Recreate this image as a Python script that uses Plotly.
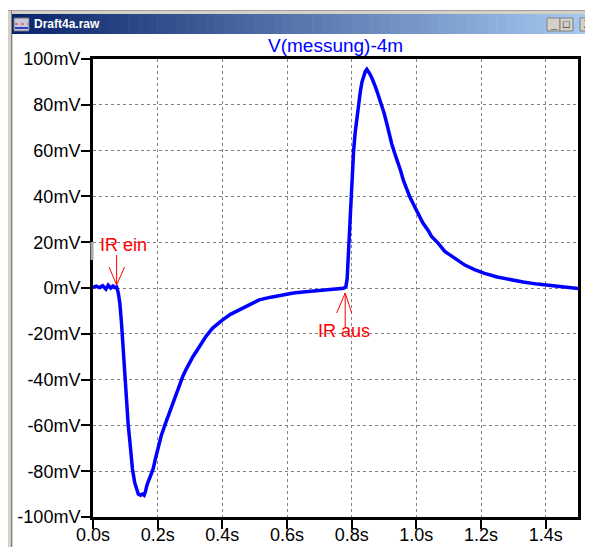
import plotly.graph_objects as go

# ---------------- data ----------------
t_s = [0.000, 0.010, 0.020, 0.030, 0.040, 0.047, 0.055, 0.062, 0.068, 0.073,
       0.078, 0.083, 0.088, 0.093, 0.098, 0.104, 0.109, 0.114, 0.118, 0.122,
       0.129, 0.135, 0.140, 0.147, 0.153, 0.158, 0.162, 0.167, 0.176, 0.186,
       0.194, 0.201, 0.211, 0.222, 0.232, 0.247, 0.258, 0.268, 0.278, 0.288,
       0.299, 0.309, 0.325, 0.339, 0.350, 0.370, 0.386, 0.401, 0.425, 0.452,
       0.480, 0.514, 0.550, 0.586, 0.620, 0.657, 0.690, 0.729, 0.760, 0.775,
       0.782, 0.786, 0.791, 0.796, 0.801, 0.806, 0.811, 0.816, 0.822, 0.827,
       0.832, 0.837, 0.842, 0.847, 0.852, 0.857, 0.863, 0.868, 0.873, 0.878,
       0.885, 0.893, 0.900, 0.909, 0.916, 0.924, 0.935, 0.945, 0.952, 0.960,
       0.970, 0.980, 0.993, 1.006, 1.020, 1.037, 1.047, 1.068, 1.088, 1.098,
       1.124, 1.150, 1.180, 1.211, 1.250, 1.293, 1.330, 1.375, 1.420, 1.460,
       1.500]
v_mV = [0.3, 0.8, 0.2, 1.0, -0.5, 1.2, 0.0, 0.9, 0.2, 0.4,
        -2.0, -6.6, -15.0, -27.0, -39.0, -52.0, -60.0, -67.0, -73.0, -79.0,
        -85.0, -88.5, -90.0, -90.5, -90.0, -90.5, -89.0, -86.0, -83.0, -79.0,
        -74.0, -70.0, -64.5, -60.0, -56.0, -50.0, -46.0, -42.0, -38.5, -35.5,
        -32.5, -30.0, -26.5, -23.5, -21.0, -17.5, -15.4, -13.9, -11.5, -9.6,
        -7.2, -5.2, -4.0, -3.0, -2.2, -1.6, -1.2, -0.9, -0.4, -0.1,
        0.5, 4.0, 18.0, 34.0, 48.0, 60.0, 68.0, 74.5, 81.0, 86.0,
        90.0, 92.6, 94.5, 95.5, 94.5, 93.3, 91.5, 90.0, 88.0, 86.0,
        83.0, 80.3, 76.5, 71.6, 67.0, 62.9, 58.0, 54.2, 51.0, 47.0,
        43.0, 39.7, 36.0, 32.5, 28.5, 25.0, 22.5, 19.5, 16.0, 15.0,
        12.5, 10.0, 8.0, 6.4, 4.8, 3.5, 2.6, 1.7, 1.0, 0.4,
        -0.2]

x_ticks = [0.0, 0.2, 0.4, 0.6, 0.8, 1.0, 1.2, 1.4]
x_labels = ["0.0s", "0.2s", "0.4s", "0.6s", "0.8s", "1.0s", "1.2s", "1.4s"]
y_ticks = [-100, -80, -60, -40, -20, 0, 20, 40, 60, 80, 100]
y_labels = ["-100mV", "-80mV", "-60mV", "-40mV", "-20mV", "0mV",
            "20mV", "40mV", "60mV", "80mV", "100mV"]

ir_on_t = 0.073
ir_off_t = 0.780
trace_name = "V(messung)-4m"
window_title = "Draft4a.raw"

# ---------------- layout geometry ----------------
# The page body has an 8px margin, so the figure starts at screen (8, 8).
OFF = 8
SW, SH = 593, 547                # screen size
W, H = SW - OFF, SH - OFF        # figure size
L, R, T, B = 93 - OFF, 15, 59 - OFF, 30
PW, PH = W - L - R, H - T - B


def px(sx):
    """screen x -> paper x"""
    return (sx - OFF - L) / PW


def py(sy):
    """screen y -> paper y"""
    return (H - B - (sy - OFF)) / PH


FONT = "Liberation Sans, Arial, sans-serif"

fig = go.Figure()
fig.add_trace(go.Scatter(x=t_s, y=v_mV, mode="lines",
                         line=dict(color="#0000FF", width=3.5),
                         hoverinfo="skip", showlegend=False))

shapes = []
annotations = []

# window frame (left and top)
shapes.append(dict(type="rect", xref="paper", yref="paper",
                   x0=px(6), x1=px(13), y0=py(10), y1=py(SH),
                   fillcolor="#d4d0c8", line=dict(width=0)))
shapes.append(dict(type="rect", xref="paper", yref="paper",
                   x0=px(6), x1=px(SW), y0=py(10), y1=py(14),
                   fillcolor="#d4d0c8", line=dict(width=0)))
for xx, col in [(6.5, "#a0a0a0"), (11.5, "#808080")]:
    shapes.append(dict(type="line", xref="paper", yref="paper",
                       x0=px(xx), x1=px(xx), y0=py(10), y1=py(SH),
                       line=dict(color=col, width=1)))
shapes.append(dict(type="line", xref="paper", yref="paper",
                   x0=px(6), x1=px(SW), y0=py(10.5), y1=py(10.5),
                   line=dict(color="#a0a0a0", width=1)))

# title bar gradient
c0 = (10, 36, 106)
c1 = (166, 202, 240)
n = 60
xs0, xs1 = 12, SW
for i in range(n):
    f = i / (n - 1)
    col = "rgb(%d,%d,%d)" % tuple(int(round(a + (b - a) * f)) for a, b in zip(c0, c1))
    xa = xs0 + (xs1 - xs0) * i / n
    xb = min(xs1, xs0 + (xs1 - xs0) * (i + 1) / n + 0.6)
    shapes.append(dict(type="rect", xref="paper", yref="paper",
                       x0=px(xa), x1=px(xb), y0=py(14), y1=py(34),
                       fillcolor=col, line=dict(width=0)))

# window icon
shapes.append(dict(type="rect", xref="paper", yref="paper",
                   x0=px(14), x1=px(29), y0=py(18), y1=py(31),
                   fillcolor="#c8c8d8", line=dict(color="#707080", width=1)))
shapes.append(dict(type="line", xref="paper", yref="paper",
                   x0=px(15), x1=px(28), y0=py(24), y1=py(24),
                   line=dict(color="#e03030", width=1, dash="dot")))
shapes.append(dict(type="line", xref="paper", yref="paper",
                   x0=px(15), x1=px(28), y0=py(28), y1=py(28),
                   line=dict(color="#3040c0", width=2)))
annotations.append(dict(xref="paper", yref="paper", x=px(32), y=py(24.5),
                        text="<b>%s</b>" % window_title, showarrow=False,
                        xanchor="left", yanchor="middle",
                        font=dict(family=FONT, size=12, color="white")))

# window buttons
for (xa, xb, glyph) in [(547, 560, "_"), (560, 573, "□"), (580, SW, "X")]:
    shapes.append(dict(type="rect", xref="paper", yref="paper",
                       x0=px(xa), x1=px(xb), y0=py(18), y1=py(31),
                       fillcolor="#d4d0c8", line=dict(color="#808080", width=1)))
    gx = (xa + xb) / 2 if glyph != "X" else 588
    annotations.append(dict(xref="paper", yref="paper", x=px(gx),
                            y=py(24.5), text="<b>%s</b>" % glyph, showarrow=False,
                            xanchor="center", yanchor="middle",
                            font=dict(family=FONT, size=11, color="black")))

# small grey mark over the axis near the "IR ein" label
shapes.append(dict(type="rect", xref="paper", yref="paper",
                   x0=px(90.5), x1=px(93.5), y0=py(260), y1=py(242),
                   fillcolor="#a8a8a8", line=dict(width=0)))

# event arrows (pixel offsets around the event points)
red = "#FF0000"
for (tt, segs) in [
    (ir_on_t, [((0, 3), (0, 33)), ((0, 3), (-7.5, 21)), ((0, 3), (8, 21))]),
    (ir_off_t, [((0, -5), (0, -39)), ((0, -5), (-8.5, -25)), ((0, -5), (6.5, -25))]),
]:
    for (a, b) in segs:
        shapes.append(dict(type="line", xref="x", yref="y",
                           xsizemode="pixel", ysizemode="pixel",
                           xanchor=tt, yanchor=0,
                           x0=a[0], y0=a[1], x1=b[0], y1=b[1],
                           line=dict(color=red, width=1)))

annotations.append(dict(xref="x", yref="y", x=ir_on_t, y=0, xshift=7, yshift=43,
                        text="IR ein", showarrow=False, xanchor="center", yanchor="middle",
                        font=dict(family=FONT, size=18, color=red)))
annotations.append(dict(xref="x", yref="y", x=ir_off_t, y=0, xshift=-1, yshift=-43,
                        text="IR aus", showarrow=False, xanchor="center", yanchor="middle",
                        font=dict(family=FONT, size=18, color=red)))

# trace title
annotations.append(dict(xref="paper", yref="paper", x=0.5, y=py(45),
                        text=trace_name, showarrow=False, xanchor="center", yanchor="middle",
                        font=dict(family=FONT, size=19, color="#0000FF")))

axis_common = dict(showline=True, linecolor="black", linewidth=3, mirror=True,
                   ticks="outside", ticklen=9, tickwidth=2, tickcolor="black",
                   showgrid=True, gridcolor="#808080", gridwidth=1, griddash="dot",
                   zeroline=False, tickfont=dict(family=FONT, size=18, color="black"),
                   fixedrange=True, automargin=False)

fig.update_layout(
    width=W, height=H, autosize=False,
    margin=dict(l=L, r=R, t=T, b=B, pad=0, autoexpand=False),
    paper_bgcolor="white", plot_bgcolor="white",
    showlegend=False,
    font=dict(family=FONT),
    xaxis=dict(range=[0, 1.5], tickvals=x_ticks, ticktext=x_labels,
               ticklabelstandoff=-10, **axis_common),
    yaxis=dict(range=[-100, 100], tickvals=y_ticks, ticktext=y_labels,
               ticklabelstandoff=-3, **axis_common),
    shapes=shapes,
    annotations=annotations,
)

fig.write_html("out.html", config={"displayModeBar": False, "responsive": False})
